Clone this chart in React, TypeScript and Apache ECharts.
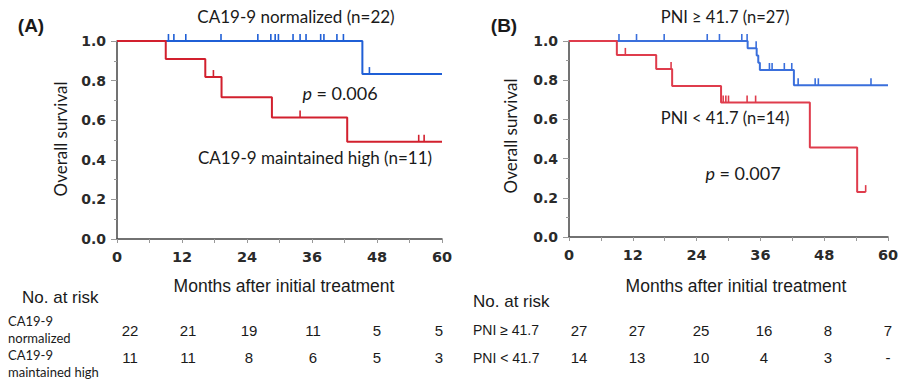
import React, { useEffect, useRef } from "react";
import * as echarts from "echarts";

// ---------- data ----------
const xTicks = [0, 12, 24, 36, 48, 60];

// Panel A: step times (months) and survival
const aNormTimes = [0, 45.3, 60];
const aNormSurv = [1, 0.833, 0.833];
const aNormCensor = [9.5, 10.5, 12.7, 19.2, 26.0, 28.4, 29.2, 29.8, 32.5, 33.8, 34.9, 37.6, 38.2, 40.6, 41.8, 46.6];

const aHighTimes = [0, 9.0, 16.3, 19.3, 28.6, 42.5, 60];
const aHighSurv = [1, 0.909, 0.818, 0.716, 0.614, 0.491, 0.491];
const aHighCensor = [17.8, 33.8, 55.7, 56.7];

// Panel B
const bHiTimes = [0, 33.6, 35.3, 35.6, 35.9, 42.3, 60];
const bHiSurv = [1, 0.963, 0.926, 0.889, 0.852, 0.774, 0.774];
const bHiCensor = [9.4, 12.7, 17.9, 26.0, 28.3, 32.5, 33.5, 35.2, 37.7, 38.2, 40.5, 41.9, 43.1, 46.3, 46.9, 56.8];

const bLoTimes = [0, 9.0, 16.4, 19.4, 28.6, 45.3, 54.2, 55.8];
const bLoSurv = [1, 0.929, 0.857, 0.771, 0.686, 0.457, 0.229, 0.229];
const bLoCensor = [10.6, 19.2, 29.0, 29.5, 30.0, 33.5, 35.1, 55.8];

// Risk tables
const aRiskLabels = [["CA19-9", "normalized"], ["CA19-9", "maintained high"]];
const aRiskNorm = ["22", "21", "19", "11", "5", "5"];
const aRiskHigh = ["11", "11", "8", "6", "5", "3"];
const bRiskLabels = ["PNI \u2265 41.7", "PNI < 41.7"];
const bRiskHi = ["27", "27", "25", "16", "8", "7"];
const bRiskLo = ["14", "13", "10", "4", "3", "-"];

const titleA1 = "CA19-9 normalized (n=22)";
const titleA2 = "CA19-9 maintained high (n=11)";
const pA = "0.006";
const titleB1 = "PNI \u2265 41.7 (n=27)";
const titleB2 = "PNI < 41.7 (n=14)";
const pB = "0.007";

// ---------- helpers ----------
const stepPairs = (t: number[], s: number[]) => t.map((v, i) => [v, s[i]]);
const levelAt = (t: number[], s: number[], x: number) => {
  let v = s[0];
  for (let i = 0; i < t.length; i++) if (t[i] <= x) v = s[i];
  return v;
};
const censorPairs = (c: number[], t: number[], s: number[]) => c.map((x) => [x, levelAt(t, s, x)]);

const BLUE_A = "#1f5fd6";
const RED_A = "#d2202e";
const BLUE_B = "#3a6fdc";
const RED_B = "#df3c4c";

const LABEL_FONT = "DejaVu Sans";
const TEXT_FONT = "Lato";
const TABLE_FONT = "Liberation Sans";

export default function App() {
  const ref = useRef<HTMLDivElement>(null);
  useEffect(() => {
    if (!ref.current) return;
    const chart = echarts.init(ref.current, undefined, { renderer: "svg" });

    const grids = [
      { left: 117, top: 41, width: 325, height: 198 },
      { left: 569, top: 41, width: 319, height: 196 },
    ];

    const xAxisBase = (gi: number) => ({
      type: "value",
      gridIndex: gi,
      min: 0,
      max: 60,
      interval: 12,
      axisLine: { show: true, lineStyle: { color: "#444", width: 1.5 } },
      axisTick: { show: true, length: 4, inside: false, lineStyle: { color: "#999", width: 1 } },
      minorTick: { show: true, splitNumber: 2, length: 4, lineStyle: { color: "#999", width: 1 } },
      splitLine: { show: false },
      axisLabel: {
        margin: 10,
        color: "#2a2a2a",
        fontFamily: LABEL_FONT,
        fontWeight: "bold",
        fontSize: 14.5,
        formatter: (v: number) => (xTicks.includes(v) ? String(v) : ""),
      },
    });
    const yAxisBase = (gi: number) => ({
      type: "value",
      gridIndex: gi,
      min: 0,
      max: 1,
      interval: 0.2,
      axisLine: { show: true, lineStyle: { color: "#444", width: 1.5 } },
      axisTick: { show: true, length: 6, lineStyle: { color: "#999", width: 1 } },
      minorTick: { show: true, splitNumber: 2, length: 3, lineStyle: { color: "#999", width: 1 } },
      splitLine: { show: false },
      axisLabel: {
        margin: 11,
        color: "#2a2a2a",
        fontFamily: LABEL_FONT,
        fontWeight: "bold",
        fontSize: 14,
        formatter: (v: number) => v.toFixed(1),
      },
    });

    const kmLine = (gi: number, t: number[], s: number[], color: string) => ({
      type: "line",
      xAxisIndex: gi,
      yAxisIndex: gi,
      step: "end",
      symbol: "none",
      data: stepPairs(t, s),
      lineStyle: { color, width: 2 },
      z: 3,
    });
    const censor = (gi: number, c: number[], t: number[], s: number[], color: string) => ({
      type: "custom",
      xAxisIndex: gi,
      yAxisIndex: gi,
      data: censorPairs(c, t, s),
      z: 4,
      renderItem: (_p: any, api: any) => {
        const pt = api.coord([api.value(0), api.value(1)]);
        return {
          type: "line",
          shape: { x1: pt[0], y1: pt[1], x2: pt[0], y2: pt[1] - 7 },
          style: { stroke: color, lineWidth: 1.6 },
        };
      },
    });

    const txt = (text: string, x: number, y: number, size: number, opts: any = {}) => ({
      type: "text",
      x,
      y,
      rotation: opts.rotation || 0,
      style: {
        text,
        fontSize: size,
        fontFamily: opts.family || TEXT_FONT,
        fontWeight: opts.weight || "normal",
        fill: opts.color || "#1a1a1a",
        textAlign: opts.align || "center",
        textVerticalAlign: "middle",
        rich: opts.rich,
      },
    });
    const pText = (val: string, x: number, y: number) =>
      txt(`{i|p} = ${val}`, x, y, 18, {
        rich: {
          i: { fontStyle: "italic", fontSize: 18, fontFamily: TEXT_FONT, fill: "#1a1a1a" },
        },
      });

    const aCols = [130, 188, 249, 313, 377, 439];
    const bCols = [579, 637, 701, 764, 828, 888];
    const rowY = [330, 357.5];

    const graphics: any[] = [
      txt("(A)", 31, 25, 19, { family: TABLE_FONT, weight: "bold" }),
      txt("(B)", 504, 25, 19, { family: TABLE_FONT, weight: "bold" }),
      txt(titleA1, 296, 16, 17),
      txt(titleA2, 315, 157, 17),
      pText(pA, 340, 93),
      txt(titleB1, 725, 17, 16.5),
      txt(titleB2, 725, 118, 16.5),
      pText(pB, 743, 173),
      txt("Overall survival", 60, 139, 17, { rotation: Math.PI / 2 }),
      txt("Overall survival", 510, 136, 17, { rotation: Math.PI / 2 }),
      txt("Months after initial treatment", 284, 286, 17.5, { family: TABLE_FONT }),
      txt("Months after initial treatment", 736, 286, 17.5, { family: TABLE_FONT }),
      txt("No. at risk", 22, 297, 17, { family: TABLE_FONT, align: "left" }),
      txt("No. at risk", 473, 301, 17, { family: TABLE_FONT, align: "left" }),
      txt(aRiskLabels[0][0], 8, 321, 13, { align: "left" }),
      txt(aRiskLabels[0][1], 8, 337.5, 13, { align: "left" }),
      txt(aRiskLabels[1][0], 8, 355, 13, { align: "left" }),
      txt(aRiskLabels[1][1], 8, 372, 13, { align: "left" }),
      txt(bRiskLabels[0], 473, rowY[0], 14, { family: TABLE_FONT, align: "left" }),
      txt(bRiskLabels[1], 473, rowY[1], 14, { family: TABLE_FONT, align: "left" }),
    ];
    aRiskNorm.forEach((v, i) => graphics.push(txt(v, aCols[i], rowY[0], 15, { family: TABLE_FONT })));
    aRiskHigh.forEach((v, i) => graphics.push(txt(v, aCols[i], rowY[1], 15, { family: TABLE_FONT })));
    bRiskHi.forEach((v, i) => graphics.push(txt(v, bCols[i], rowY[0], 15, { family: TABLE_FONT })));
    bRiskLo.forEach((v, i) => graphics.push(txt(v, bCols[i], rowY[1], 15, { family: TABLE_FONT })));

    chart.setOption({
      animation: false,
      backgroundColor: "#ffffff",
      grid: grids,
      xAxis: [xAxisBase(0), xAxisBase(1)],
      yAxis: [yAxisBase(0), yAxisBase(1)],
      series: [
        kmLine(0, aNormTimes, aNormSurv, BLUE_A),
        kmLine(0, aHighTimes, aHighSurv, RED_A),
        censor(0, aNormCensor, aNormTimes, aNormSurv, BLUE_A),
        censor(0, aHighCensor, aHighTimes, aHighSurv, RED_A),
        kmLine(1, bHiTimes, bHiSurv, BLUE_B),
        kmLine(1, bLoTimes, bLoSurv, RED_B),
        censor(1, bHiCensor, bHiTimes, bHiSurv, BLUE_B),
        censor(1, bLoCensor, bLoTimes, bLoSurv, RED_B),
      ],
      graphic: graphics,
    });
    return () => chart.dispose();
  }, []);
  return (
    <div
      ref={ref}
      style={{ position: "fixed", left: 0, top: 0, width: 907, height: 380, background: "#fff" }}
    />
  );
}
